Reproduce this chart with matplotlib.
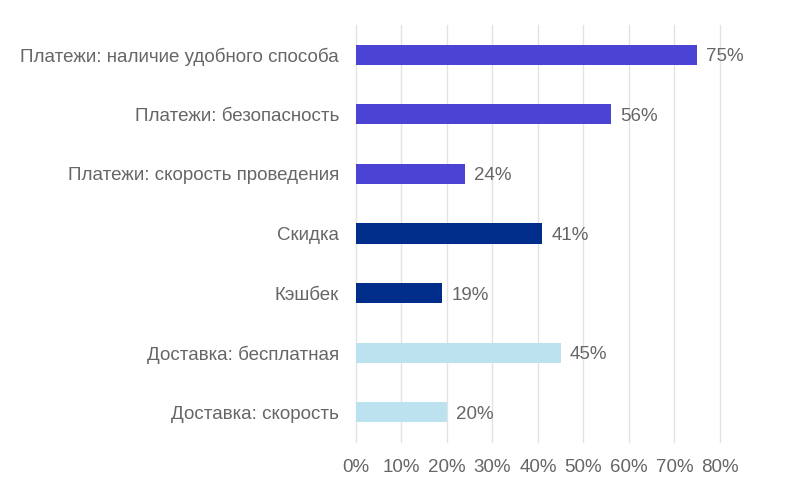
import matplotlib
matplotlib.use("Agg")
import matplotlib.pyplot as plt

categories = [
    "Платежи: наличие удобного способа",
    "Платежи: безопасность",
    "Платежи: скорость проведения",
    "Скидка",
    "Кэшбек",
    "Доставка: бесплатная",
    "Доставка: скорость",
]
values = [75, 56, 24, 41, 19, 45, 20]
colors = ["#4B43D3", "#4B43D3", "#4B43D3", "#002C8A", "#002C8A", "#BCE1EF", "#BCE1EF"]
xticks = [0, 10, 20, 30, 40, 50, 60, 70, 80]
xticklabels = [f"{t}%" for t in xticks]

plt.rcParams['font.family'] = ['Liberation Sans', 'DejaVu Sans']
fig = plt.figure(figsize=(7.89, 4.86), dpi=100)
ax = fig.add_axes([0.451, 0.0905, 0.4615, 0.8581])

ypos = list(range(len(categories)))
ax.barh(ypos, values, height=0.34, color=colors, zorder=3)
for y, v in zip(ypos, values):
    ax.text(v + 2.0, y, f"{v}%", va="center_baseline", ha="left", fontsize=13.5, color="#666666")

ax.set_ylim(len(categories) - 0.5, -0.5)
ax.set_xlim(0, 80)
ax.set_xticks(xticks)
ax.set_xticklabels(xticklabels)
ax.set_yticks(ypos)
ax.set_yticklabels(categories)
ax.tick_params(axis="both", length=0, labelsize=13.5, labelcolor="#666666")
ax.tick_params(axis="x", pad=12)
ax.tick_params(axis="y", pad=12)
ax.grid(axis="x", color="#E3E3E3", linewidth=1, zorder=0)
for line in ax.get_xgridlines():
    line.set_clip_on(False)
for s in ax.spines.values():
    s.set_visible(False)

fig.savefig("out.png", dpi=100, facecolor="white")
